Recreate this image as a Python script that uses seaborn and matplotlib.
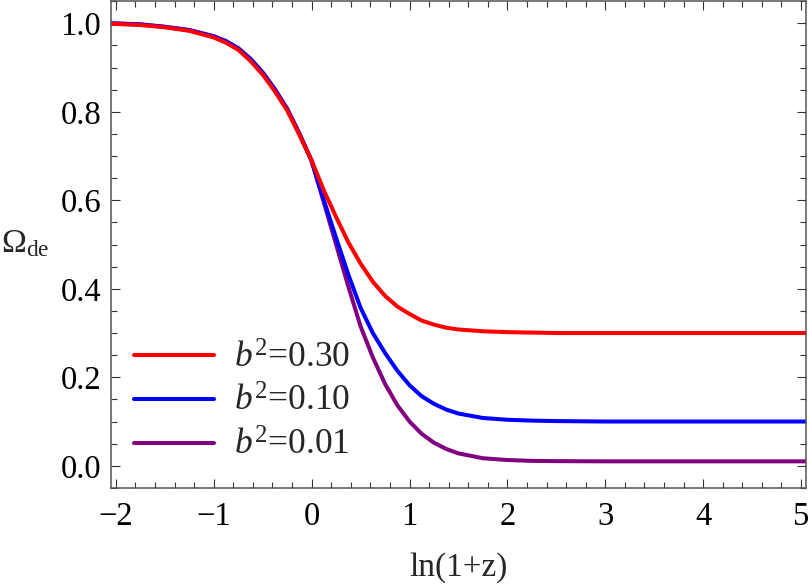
import numpy as np
import pandas as pd
import matplotlib
matplotlib.use("Agg")
import matplotlib.pyplot as plt
import seaborn as sns
from matplotlib.ticker import MultipleLocator

# ln(1+z) sample points
lnz = [-2.05, -1.75, -1.5, -1.25, -1.0, -0.875, -0.75, -0.625, -0.5, -0.375,
       -0.25, -0.125, 0.0, 0.125, 0.25, 0.375, 0.5, 0.625, 0.75, 0.875,
       1.0, 1.125, 1.25, 1.375, 1.5, 1.75, 2.0, 2.25, 2.5, 3.0, 3.5, 4.0, 4.5, 5.05]

# Omega_de for each b^2
omega_030 = [0.999, 0.996, 0.991, 0.983, 0.968, 0.956, 0.940, 0.915, 0.884, 0.846,
             0.803, 0.748, 0.690, 0.622, 0.562, 0.505, 0.457, 0.416, 0.384, 0.360,
             0.343, 0.328, 0.319, 0.312, 0.308, 0.304, 0.302, 0.301, 0.300, 0.300,
             0.300, 0.300, 0.300, 0.300]
omega_010 = [1.000, 0.997, 0.992, 0.984, 0.970, 0.959, 0.943, 0.919, 0.888, 0.850,
             0.806, 0.750, 0.690, 0.600, 0.515, 0.432, 0.357, 0.300, 0.255, 0.215,
             0.182, 0.157, 0.140, 0.127, 0.118, 0.108, 0.104, 0.102, 0.101, 0.100,
             0.100, 0.100, 0.100, 0.100]
omega_001 = [1.000, 0.998, 0.992, 0.985, 0.971, 0.960, 0.944, 0.920, 0.889, 0.851,
             0.807, 0.751, 0.688, 0.595, 0.500, 0.405, 0.315, 0.245, 0.185, 0.137,
             0.100, 0.072, 0.052, 0.038, 0.028, 0.017, 0.013, 0.011, 0.0105, 0.010,
             0.010, 0.010, 0.010, 0.010]

labels = [r"$b^2$=0.30", r"$b^2$=0.10", r"$b^2$=0.01"]
colors = ["#ff0000", "#0000ff", "#800080"]

df = pd.DataFrame({"lnz": lnz * 3,
                   "omega": omega_030 + omega_010 + omega_001,
                   "case": [labels[0]] * len(lnz) + [labels[1]] * len(lnz) + [labels[2]] * len(lnz)})

sns.set_theme(style="ticks")
plt.rcParams["font.family"] = ["Liberation Serif", "DejaVu Serif"]
plt.rcParams["mathtext.fontset"] = "custom"
plt.rcParams["mathtext.rm"] = "Liberation Serif"
plt.rcParams["mathtext.it"] = "Liberation Serif:italic"

fig = plt.figure(figsize=(8.1, 5.85), dpi=100)
ax = fig.add_axes([0.137, 0.166, 0.858, 0.832])

# purple first, red on top
for i in [2, 1, 0]:
    sub = df[df["case"] == labels[i]]
    sns.lineplot(data=sub, x="lnz", y="omega", color=colors[i], lw=2.9,
                 label=labels[i], ax=ax, sort=False)

ax.set_xlim(-2.05, 5.05)
ax.set_ylim(-0.05, 1.05)
ax.xaxis.set_minor_locator(MultipleLocator(0.2))
ax.yaxis.set_minor_locator(MultipleLocator(0.05))
ax.set_yticks([0.0, 0.2, 0.4, 0.6, 0.8, 1.0])
ax.set_yticklabels(["0.0", "0.2", "0.4", "0.6", "0.8", "1.0"])
ax.set_xticks([-2, -1, 0, 1, 2, 3, 4, 5])
ax.set_xticklabels(["\u22122", "\u22121", "0", "1", "2", "3", "4", "5"])
ax.tick_params(which="both", direction="in", top=True, right=True,
               colors="#333333", labelcolor="black", labelsize=23.5, width=0.8)
ax.tick_params(which="major", length=6.5)
ax.tick_params(which="minor", length=4)
ax.tick_params(axis="x", which="major", pad=10)
ax.tick_params(axis="y", which="major", pad=7)
for s in ax.spines.values():
    s.set_color("#555555")
    s.set_linewidth(1.1)

ax.set_xlabel("ln(1+z)", fontsize=24, labelpad=14)
ax.set_ylabel(r"$\Omega_{\rm de}$", fontsize=24, rotation=0, labelpad=0)
ax.yaxis.set_label_coords(-0.124, 0.47)

h, l = ax.get_legend_handles_labels()
ax.legend(h[::-1], l[::-1], loc="center left", bbox_to_anchor=(0.033, 0.175),
          frameon=False, fontsize=25.5, handlelength=2.26, handletextpad=0.56,
          labelspacing=0.3, borderpad=0, borderaxespad=0)

fig.savefig("out.png", dpi=100)
